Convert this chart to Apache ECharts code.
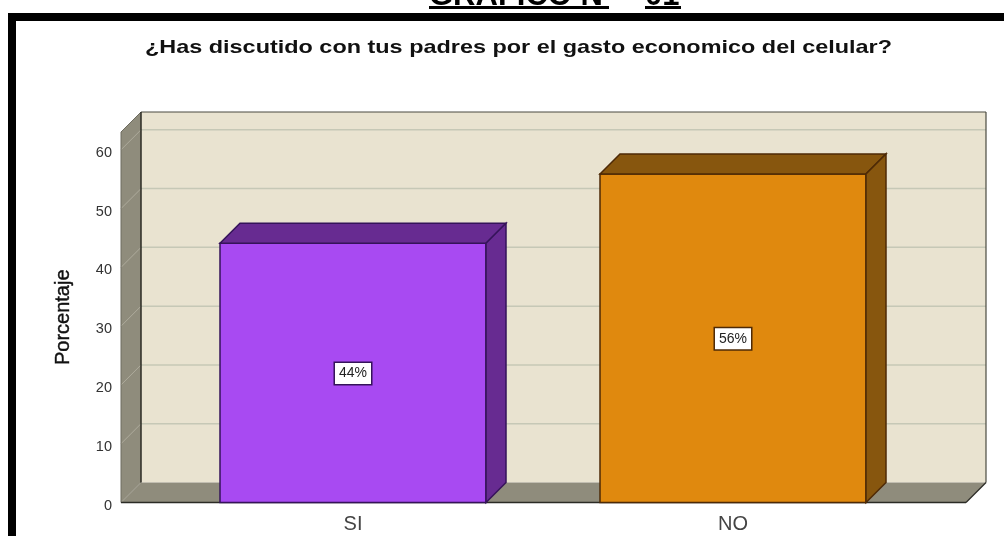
<!DOCTYPE html>
<html>
<head>
<meta charset="utf-8">
<style>html,body{margin:0;padding:0;background:#fff}#c{width:1004px;height:536px}</style>
<script src="https://cdn.jsdelivr.net/npm/echarts@6/dist/echarts.min.js"></script>
</head>
<body>
<div id="c"></div>
<script>
const categories = ["SI", "NO"];
const percentages = [44.1, 55.9];
const barLabels = ["44%", "56%"];
const yTicks = [0, 10, 20, 30, 40, 50, 60];
const faceColors = ["#a84af2", "#e0890e"];
const shadeColors = ["#672b91", "#87560e"];
const edgeColors = ["#35135a", "#4e2a06"];

const DEPTH = 20;
const WALL_PAD_LEFT = 232;
const WALL_PAD_RIGHT = 233;
const AXIS_TOP = 63.03;

const chart = echarts.init(document.getElementById("c"), null, {renderer: "canvas"});

function poly(points, fill, stroke, lw) {
  return {type: "polygon", shape: {points}, style: {fill, stroke: stroke || "none", lineWidth: lw || 0}};
}
function seg(a, b, stroke, lw) {
  return {type: "line", shape: {x1: a[0], y1: a[1], x2: b[0], y2: b[1]}, style: {stroke, lineWidth: lw || 1}};
}

function renderWalls(params, api) {
  const xl = api.coord([0, 0])[0] - WALL_PAD_LEFT;
  const xr = api.coord([1, 0])[0] + WALL_PAD_RIGHT;
  const y0 = api.coord([0, 0])[1];
  const yt = api.coord([0, AXIS_TOP])[1];
  const d = DEPTH;
  const kids = [];
  kids.push(poly([[xl + d, y0 - d], [xr + d, y0 - d], [xr + d, yt - d], [xl + d, yt - d]], "#e9e3d0"));
  kids.push(poly([[xl, y0], [xl + d, y0 - d], [xl + d, yt - d], [xl, yt]], "#8f8c7c"));
  kids.push(poly([[xl, y0], [xr, y0], [xr + d, y0 - d], [xl + d, y0 - d]], "#8f8c7c"));
  yTicks.forEach(function (t) {
    if (t === 0) return;
    const y = api.coord([0, t])[1];
    kids.push(seg([xl + d, y - d], [xr + d, y - d], "#c6c8b6", 1.5));
    kids.push(seg([xl, y], [xl + d, y - d], "#aeab9c", 1));
  });
  kids.push(seg([xl, yt], [xl + d, yt - d], "#6e6c60", 1));
  kids.push(seg([xl + d, yt - d], [xr + d, yt - d], "#4a4a40", 1.2));
  kids.push(seg([xr + d, yt - d], [xr + d, y0 - d], "#4a4a40", 1.2));
  kids.push(seg([xl + d, yt - d], [xl + d, y0 - d], "#2b2b25", 1.5));
  kids.push(seg([xl, yt], [xl, y0], "#6e6c60", 1));
  kids.push(seg([xl, y0], [xr, y0], "#2b2b25", 1.5));
  kids.push(seg([xr, y0], [xr + d, y0 - d], "#2b2b25", 1.2));
  return {type: "group", children: kids};
}

function renderBar(params, api) {
  const i = params.dataIndex;
  const cat = api.value(0);
  const val = api.value(1);
  const w = api.size([1, 0])[0] * 0.7;
  const c = api.coord([cat, val]);
  const b = api.coord([cat, 0]);
  const l = c[0] - w / 2, r = c[0] + w / 2, t = c[1], y0 = b[1];
  const d = DEPTH;
  const mid = api.coord([cat, val / 2]);
  const edge = edgeColors[i];
  return {type: "group", children: [
    poly([[l, y0], [r, y0], [r, t], [l, t]], faceColors[i], edge, 1.5),
    poly([[l, t], [r, t], [r + d, t - d], [l + d, t - d]], shadeColors[i], edge, 1.5),
    poly([[r, y0], [r + d, y0 - d], [r + d, t - d], [r, t]], shadeColors[i], edge, 1.5),
    {type: "text", x: mid[0], y: mid[1] + 0.5, style: {
      text: barLabels[i], fontFamily: "Liberation Sans", fontSize: 14, fill: "#222",
      align: "center", verticalAlign: "middle",
      backgroundColor: "#fff", borderColor: edge, borderWidth: 1.5, padding: [4, 4, 3, 4]
    }}
  ]};
}

chart.setOption({
  animation: false,
  backgroundColor: "#fff",
  grid: {left: 163, right: 81, top: 132, bottom: 33.5},
  xAxis: {
    type: "category", data: categories,
    axisLine: {show: false}, axisTick: {show: false},
    axisLabel: {fontFamily: "Liberation Sans", fontSize: 20, color: "#444", margin: 12}
  },
  yAxis: {
    type: "value", min: 0, max: AXIS_TOP, offset: 42,
    name: "Porcentaje", nameLocation: "middle", nameRotate: 90, nameGap: 48,
    nameTextStyle: {fontFamily: "Liberation Sans", fontSize: 20, color: "#111", textBorderColor: "#111", textBorderWidth: 0.4},
    axisLine: {show: false}, axisTick: {show: false}, splitLine: {show: false},
    axisLabel: {
      customValues: yTicks, fontFamily: "Liberation Sans", fontSize: 14.5, color: "#333", margin: 9,
      verticalAlign: "top", lineHeight: 6
    }
  },
  graphic: [
    {type: "rect", shape: {x: 8, y: 13, width: 996, height: 8}, style: {fill: "#000"}},
    {type: "rect", shape: {x: 8, y: 13, width: 8, height: 523}, style: {fill: "#000"}},
    {type: "text", x: 518.5, y: 48, scaleX: 1.266, style: {
      text: "¿Has discutido con tus padres por el gasto economico del celular?",
      fontFamily: "Liberation Sans", fontWeight: "bold", fontSize: 18.5, fill: "#111",
      align: "center", verticalAlign: "middle"}},
    {type: "text", x: 429, y: 12, style: {text: "GRÁFICO N°", fontFamily: "Liberation Sans", fontWeight: "bold", fontSize: 31, fill: "#000", align: "left", verticalAlign: "bottom"}},
    {type: "text", x: 645, y: 12, style: {text: "01", fontFamily: "Liberation Sans", fontWeight: "bold", fontSize: 31, fill: "#000", align: "left", verticalAlign: "bottom"}},
    {type: "rect", shape: {x: 429, y: 6, width: 180, height: 3}, style: {fill: "#000"}},
    {type: "rect", shape: {x: 645, y: 6, width: 36, height: 3}, style: {fill: "#000"}}
  ],
  series: [
    {type: "custom", z: 1, silent: true, clip: false, renderItem: renderWalls,
     data: [[0, 0]], encode: {x: 0, y: 1}},
    {type: "custom", z: 2, silent: true, clip: false, renderItem: renderBar,
     data: categories.map(function (c, i) { return [i, percentages[i]]; }), encode: {x: 0, y: 1}}
  ]
});
</script>
</body>
</html>
